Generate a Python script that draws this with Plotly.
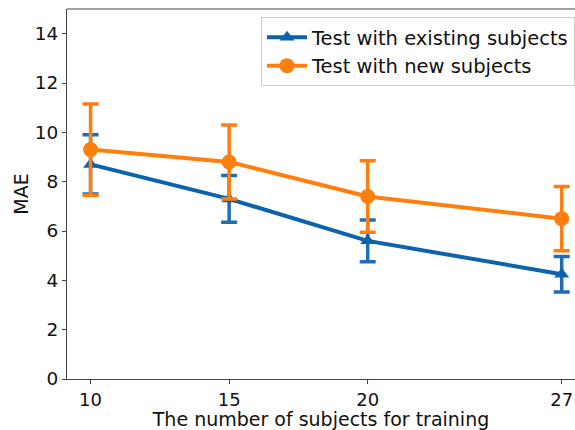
import plotly.graph_objects as go

subjects = [10, 15, 20, 27]
existing_mae = [8.7, 7.3, 5.6, 4.25]
existing_err = [1.2, 0.95, 0.85, 0.72]
new_mae = [9.3, 8.8, 7.4, 6.5]
new_err = [1.85, 1.5, 1.45, 1.3]
y_ticks = [0, 2, 4, 6, 8, 10, 12, 14]

FONT = "DejaVu Sans"

fig = go.Figure()
fig.add_trace(go.Scatter(
    x=subjects, y=existing_mae, mode="lines+markers",
    name="Test with existing subjects",
    line=dict(color="#0b63ae", width=4),
    marker=dict(symbol="triangle-up", size=13, color="#0b63ae"),
    error_y=dict(type="data", array=existing_err, color="#1f6fb6", thickness=3.5, width=8),
))
fig.add_trace(go.Scatter(
    x=subjects, y=new_mae, mode="lines+markers",
    name="Test with new subjects",
    line=dict(color="#ff7f0e", width=4),
    marker=dict(symbol="circle", size=15, color="#ff7f0e"),
    error_y=dict(type="data", array=new_err, color="#ff7f0e", thickness=3.5, width=8),
))

fig.update_layout(
    width=575, height=430,
    margin=dict(l=67, r=0, t=9, b=51),
    paper_bgcolor="white", plot_bgcolor="white",
    font=dict(family=FONT, size=19, color="#111"),
    showlegend=True,
    legend=dict(
        x=1.0, xanchor="right", y=0.978, yanchor="top",
        bordercolor="#cccccc", borderwidth=1, bgcolor="rgba(255,255,255,0.8)",
        font=dict(family=FONT, size=19.5, color="#111"),
        itemwidth=40, tracegroupgap=0,
    ),
    xaxis=dict(
        range=[9.15, 27.48], tickmode="array", tickvals=subjects,
        ticktext=[str(s) for s in subjects],
        showgrid=False, zeroline=False, showline=True, linecolor="#444", linewidth=1.2,
        ticks="outside", ticklen=4, tickcolor="#444",
        title=dict(text="The number of subjects for training", font=dict(family=FONT, size=19), standoff=5),
        tickfont=dict(family=FONT, size=18),
    ),
    yaxis=dict(
        range=[0, 15], tickmode="array", tickvals=y_ticks,
        showgrid=False, zeroline=False, showline=True, linecolor="#444", linewidth=1.2,
        ticks="outside", ticklen=4, tickcolor="#444",
        title=dict(text="MAE", font=dict(family=FONT, size=19), standoff=1),
        tickfont=dict(family=FONT, size=18.5),
    ),
    shapes=[dict(type="line", xref="paper", yref="paper", x0=0, x1=1, y0=1, y1=1,
                 line=dict(color="#444", width=1.2))],
)

fig.write_html(
    "out.html",
    config={"displayModeBar": False},
    post_script="document.body.style.margin='0';document.body.style.overflow='hidden';",
)
